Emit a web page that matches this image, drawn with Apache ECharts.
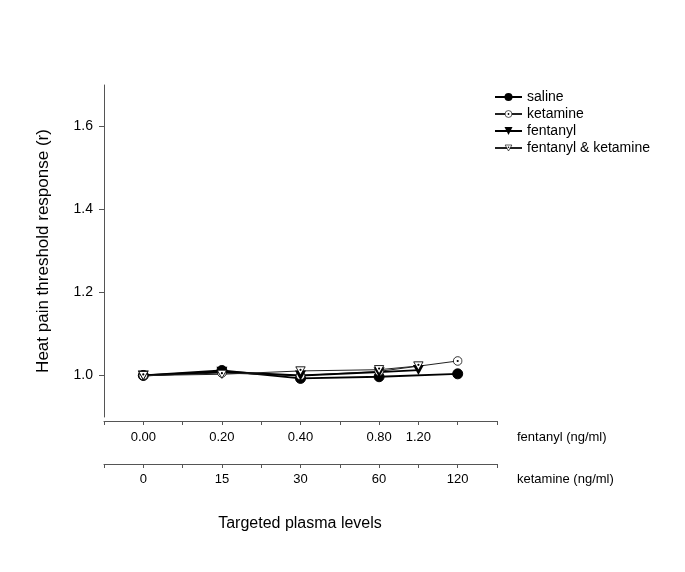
<!DOCTYPE html>
<html>
<head>
<meta charset="utf-8">
<script src="https://cdn.jsdelivr.net/npm/echarts@6/dist/echarts.min.js"></script>
<style>
  html, body { margin: 0; padding: 0; background: #fff; }
  #container { width: 685px; height: 572px; }
</style>
</head>
<body>
<div id="container"></div>
<script>
// tick labels of the two dose axes
var fentanylLevels = ['0.00', '0.20', '0.40', '0.80', '1.20'];
var ketamineLevels = ['0', '15', '30', '60', '120'];
// slot on the shared 0..10 tick scale where each dose sits
var fentanylSlots = [1, 3, 5, 7, 8];
var ketamineSlots = [1, 3, 5, 7, 9];

// heat pain threshold response (r)
var saline = [1.000, 1.012, 0.993, 0.997, 1.004];
var ketamine = [1.000, 1.006, 1.000, 1.010, 1.035];
var fentanyl = [1.000, 1.009, 1.000, 1.008, 1.013];
var fentanylKetamine = [1.000, 1.003, 1.011, 1.014, 1.023];

var yLabels = [1.0, 1.2, 1.4, 1.6];

function svgSymbol(body) {
    return 'image://data:image/svg+xml;charset=utf-8,' + encodeURIComponent(
        "<svg xmlns='http://www.w3.org/2000/svg' width='20' height='20'>" + body + '</svg>');
}
var dotCircle = svgSymbol("<circle cx='10' cy='10' r='8.6' fill='white' stroke='black' stroke-width='1.6'/><circle cx='10' cy='10' r='2.2' fill='black'/>");
var dotTriangle = svgSymbol("<polygon points='1.5,2.5 18.5,2.5 10,17.5' fill='white' stroke='black' stroke-width='1.6'/><circle cx='10' cy='8' r='2' fill='black'/>");

function pairs(slots, values) {
    return values.map(function (v, i) { return [slots[i], v]; });
}

var dom = document.getElementById('container');
var myChart = echarts.init(dom, null, { renderer: 'canvas' });

var font = 'Liberation Sans, Arial, sans-serif';

var baseX = {
    type: 'value',
    position: 'bottom',
    min: 0,
    max: 10,
    interval: 1,
    splitLine: { show: false },
    axisLine: { onZero: false, lineStyle: { color: '#555', width: 1 } },
    axisTick: { length: 4, lineStyle: { color: '#555' } },
    nameLocation: 'end',
    nameGap: 20
};

var option = {
    backgroundColor: '#fff',
    animation: false,
    textStyle: { fontFamily: font },
    grid: { left: 104, right: 188, top: 85, bottom: 155 },
    legend: {
        orient: 'vertical',
        left: 489,
        top: 85,
        itemWidth: 27,
        itemHeight: 10,
        itemGap: 3,
        textStyle: { fontFamily: font, fontSize: 14, color: '#000', lineHeight: 14 },
        data: ['saline', 'ketamine', 'fentanyl', 'fentanyl & ketamine']
    },
    xAxis: [
        Object.assign({}, baseX, {
            offset: 4,
            name: 'fentanyl (ng/ml)',
            nameTextStyle: { fontFamily: font, fontSize: 13, color: '#000', verticalAlign: 'top', padding: [10, 0, 0, 0] },
            axisLabel: {
                customValues: fentanylSlots,
                margin: 10,
                fontSize: 13,
                color: '#000',
                formatter: function (v) { return fentanylLevels[fentanylSlots.indexOf(v)]; }
            }
        }),
        Object.assign({}, baseX, {
            offset: 47,
            name: 'ketamine (ng/ml)',
            nameTextStyle: { fontFamily: font, fontSize: 13, color: '#000', verticalAlign: 'top', padding: [9, 0, 0, 0] },
            axisLabel: {
                customValues: ketamineSlots,
                margin: 9,
                fontSize: 13,
                color: '#000',
                formatter: function (v) { return ketamineLevels[ketamineSlots.indexOf(v)]; }
            }
        })
    ],
    yAxis: {
        type: 'value',
        min: 0.9,
        max: 1.7,
        splitLine: { show: false },
        axisLine: { show: true, lineStyle: { color: '#555', width: 1 } },
        axisTick: { show: true, length: 5, customValues: yLabels, lineStyle: { color: '#555' } },
        axisLabel: {
            customValues: yLabels,
            margin: 11,
            fontSize: 14,
            color: '#000',
            formatter: function (v) { return v.toFixed(1); }
        },
        name: 'Heat pain threshold response (r)',
        nameLocation: 'middle',
        nameGap: 52,
        nameTextStyle: { fontFamily: font, fontSize: 17, color: '#000' }
    },
    graphic: [{
        type: 'text',
        x: 300,
        y: 516,
        style: { text: 'Targeted plasma levels', fontFamily: font, fontSize: 16, fill: '#000', align: 'center' }
    }],
    series: [
        {
            name: 'saline',
            type: 'line',
            xAxisIndex: 1,
            data: pairs(ketamineSlots, saline),
            symbol: 'circle',
            symbolSize: 10,
            itemStyle: { color: '#000', borderColor: '#000' },
            lineStyle: { color: '#000', width: 1.8 }
        },
        {
            name: 'ketamine',
            type: 'line',
            xAxisIndex: 1,
            data: pairs(ketamineSlots, ketamine),
            symbol: dotCircle,
            symbolSize: 10,
            itemStyle: { color: '#444' },
            lineStyle: { color: '#222', width: 1 }
        },
        {
            name: 'fentanyl',
            type: 'line',
            xAxisIndex: 0,
            data: pairs(fentanylSlots, fentanyl),
            symbol: 'path://M0,0L10,0L5,9Z',
            symbolSize: [11, 10],
            itemStyle: { color: '#000' },
            lineStyle: { color: '#000', width: 1.8 }
        },
        {
            name: 'fentanyl & ketamine',
            type: 'line',
            xAxisIndex: 0,
            data: pairs(fentanylSlots, fentanylKetamine),
            symbol: dotTriangle,
            symbolSize: 11,
            itemStyle: { color: '#444' },
            lineStyle: { color: '#222', width: 1 }
        }
    ]
};

myChart.setOption(option);
window.addEventListener('resize', myChart.resize);
</script>
</body>
</html>
